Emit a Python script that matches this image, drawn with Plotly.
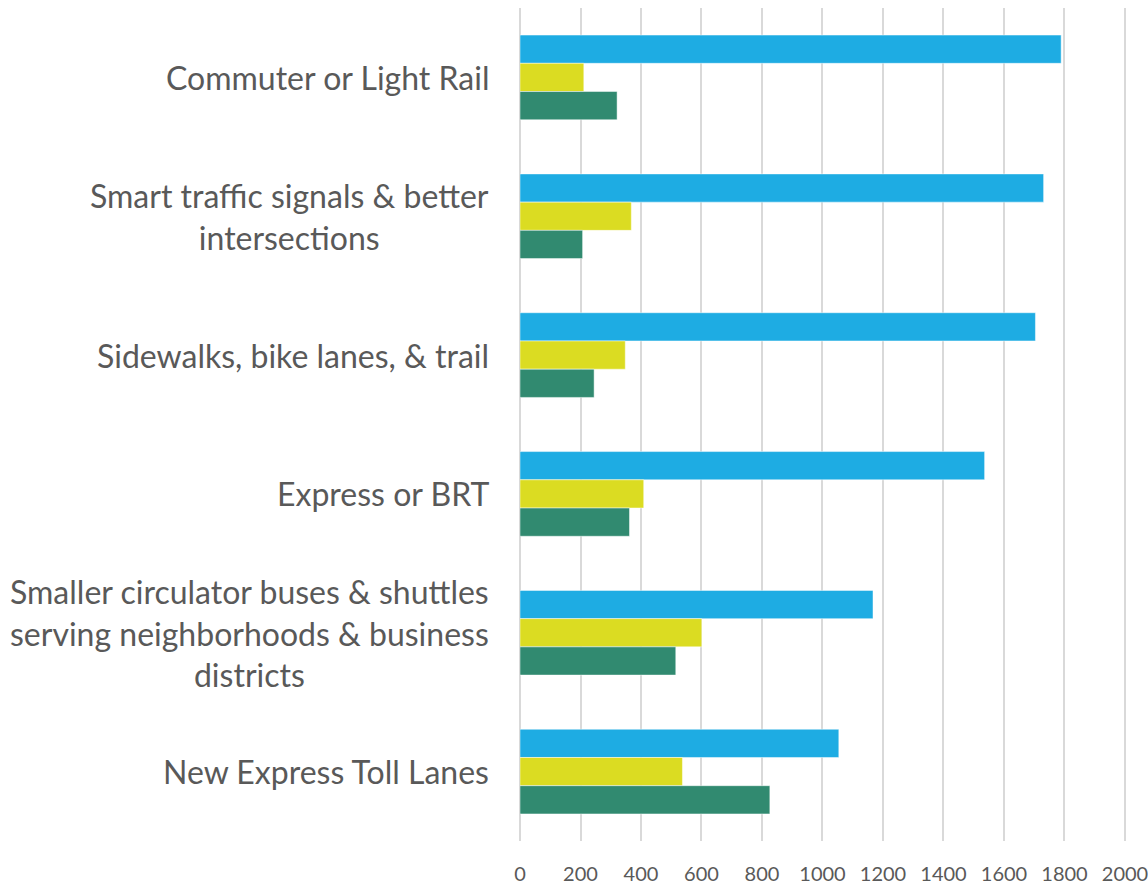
"""Grouped horizontal bars: transportation preferences."""
import plotly.graph_objects as go

CATEGORIES = [
    "Commuter or Light Rail",
    "Smart traffic signals & better<br>intersections",
    "Sidewalks, bike lanes, & trail",
    "Express or BRT",
    "Smaller circulator buses & shuttles<br>serving neighborhoods & business<br>districts",
    "New Express Toll Lanes",
]
BLUE_VALUES = [1789, 1731, 1704, 1536, 1167, 1054]
YELLOW_VALUES = [211, 368, 348, 409, 601, 537]
GREEN_VALUES = [321, 207, 245, 362, 515, 826]
X_TICKS = [0, 200, 400, 600, 800, 1000, 1200, 1400, 1600, 1800, 2000]

BLUE = "#1EACE3"
YELLOW = "#DBDC22"
GREEN = "#318A70"
TEXT = "#595959"
GRID = "#D9D9D9"
FONT = "Lato, 'Open Sans', sans-serif"

fig = go.Figure()
for vals, col in [(BLUE_VALUES, BLUE), (YELLOW_VALUES, YELLOW), (GREEN_VALUES, GREEN)]:
    fig.add_trace(go.Bar(
        y=CATEGORIES, x=vals, orientation="h",
        marker=dict(color=col, line=dict(color="rgba(255,255,255,0.6)", width=0.8)),
        showlegend=False, hoverinfo="x",
    ))

# category labels as annotations so multi-line text can be centred
for cat in CATEGORIES:
    fig.add_annotation(
        x=0, xref="paper", xshift=-29, y=cat, yref="y",
        text=cat, showarrow=False, xanchor="right", yanchor="middle",
        align="center", font=dict(family=FONT, size=32, color=TEXT),
    )

fig.update_layout(
    width=1148, height=885,
    paper_bgcolor="white", plot_bgcolor="white",
    barmode="group", bargap=0.39, bargroupgap=0,
    margin=dict(l=520, r=20, t=8, b=44, autoexpand=False),
    font=dict(family=FONT, color=TEXT),
    xaxis=dict(
        range=[0, 2010], tickvals=X_TICKS, showgrid=True,
        gridcolor=GRID, gridwidth=2, zeroline=True, zerolinecolor=GRID,
        zerolinewidth=2, showline=False, ticks="",
        ticklabelstandoff=19, ticklabeloverflow="allow",
        tickfont=dict(size=20, color=TEXT),
        fixedrange=True, automargin=False,
    ),
    yaxis=dict(
        autorange="reversed", showticklabels=False, showgrid=False,
        zeroline=False, showline=False, ticks="", fixedrange=True,
    ),
)

# drop the default page margin so the figure sits flush in the window
fig.write_html(
    "out.html",
    config={"displayModeBar": False},
    post_script="document.body.style.margin='0';document.body.style.overflow='hidden';",
)
